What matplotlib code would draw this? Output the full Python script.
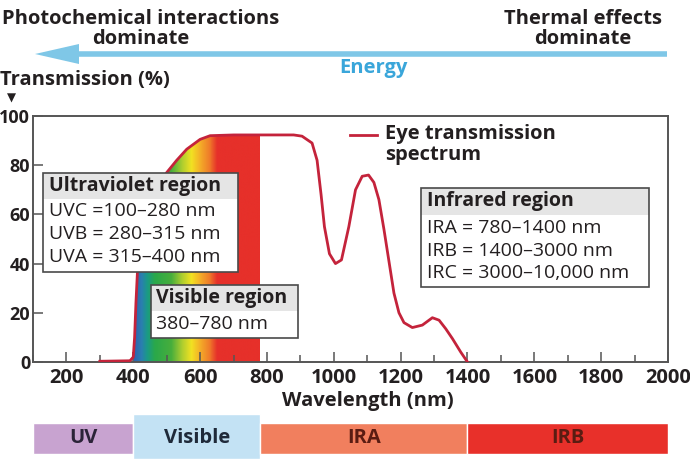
import numpy as np
import matplotlib
matplotlib.use("Agg")
import matplotlib.pyplot as plt
from matplotlib.patches import Rectangle, Polygon
from matplotlib.colors import LinearSegmentedColormap, Normalize

# ---------------- data ----------------
wavelength = [300, 390, 400, 404, 408, 413, 420, 430, 445, 460, 480, 500, 530, 560, 600, 630,
              700, 780, 880, 905, 935, 950, 962, 972, 987, 1005, 1023, 1045, 1065, 1085,
              1104, 1120, 1135, 1150, 1165, 1180, 1195, 1210, 1235, 1265, 1295, 1315,
              1335, 1355, 1380, 1400]
transmission = [0.3, 0.5, 2, 10, 24, 38, 50, 58, 65, 69, 73, 77, 82, 86.5, 90.5, 92,
                92.3, 92.3, 92.3, 91.8, 89, 82, 68, 55, 44, 40, 41.5, 55, 70, 75.5,
                76, 73, 66, 54, 41, 28, 20, 16, 14, 15, 18, 17,
                13.5, 9.5, 4, 0]

x_ticks = [200, 400, 600, 800, 1000, 1200, 1400, 1600, 1800, 2000]
y_ticks = [0, 20, 40, 60, 80, 100]

visible_start, visible_end = 400, 780
spectrum_nm = [400, 425, 442, 465, 515, 545, 575, 600, 630, 652, 780]
spectrum_colors = ['#2f5fae', '#2a7fb0', '#1a9a86', '#2aa84a', '#48ae3c', '#a8cc30',
                   '#f2e222', '#f4b028', '#ef7a2a', '#e6302a', '#e6302a']

band_names = ['UV', 'Visible', 'IRA', 'IRB']
band_start = [100, 400, 780, 1400]
band_end = [400, 780, 1400, 2000]
band_colors = ['#c8a3d0', '#c3e2f4', '#f17f5e', '#e8302a']
band_text_colors = ['#2b2338', '#1f2a3a', '#5a1c12', '#5a1c12']

uv_box = ['Ultraviolet region', 'UVC =100\u2013280 nm', 'UVB = 280\u2013315 nm', 'UVA = 315\u2013400 nm']
vis_box = ['Visible region', '380\u2013780 nm']
ir_box = ['Infrared region', 'IRA = 780\u20131400 nm', 'IRB = 1400\u20133000 nm', 'IRC = 3000\u201310,000 nm']

# ---------------- style ----------------
W, H = 690, 463
FONT = 'Open Sans'
TXT = '#231f20'
CURVE = '#c4233b'
BOLD = 14.5
plt.rcParams['font.family'] = [FONT, 'DejaVu Sans']

fig = plt.figure(figsize=(W / 100, H / 100), dpi=100)
fig.patch.set_facecolor('white')

def rect_frac(x0, y0, x1, y1):
    return [x0 / W, 1 - y1 / H, (x1 - x0) / W, (y1 - y0) / H]

# main axes
ax = fig.add_axes(rect_frac(33, 116, 668, 362))
ax.set_xlim(100, 2000)
ax.set_ylim(0, 100)
for s in ax.spines.values():
    s.set_color('#555555')
    s.set_linewidth(1.4)
ax.set_xticks(x_ticks)
ax.set_xticklabels([str(v) for v in x_ticks], fontsize=BOLD, fontweight='bold', color=TXT)
ax.set_xticks(np.arange(100, 2001, 100), minor=True)
ax.set_yticks(y_ticks)
ax.set_yticklabels([str(v) for v in y_ticks], fontsize=13, fontweight='bold', color=TXT)
ax.tick_params(axis='x', which='major', direction='in', length=7, width=1.1, color='#555555', pad=4)
ax.tick_params(axis='x', which='minor', direction='in', length=5, width=1.1, color='#555555')
ax.tick_params(axis='y', which='major', direction='in', length=7, width=1.1, color='#555555', pad=2)

# gradient fill under curve in visible range
wl = np.array(wavelength, dtype=float)
tr = np.array(transmission, dtype=float)
mask = (wl >= visible_start) & (wl <= visible_end)
poly_pts = [(visible_start, 0)] + list(zip(wl[mask], tr[mask])) + [(visible_end, 0)]
clip = Polygon(poly_pts, closed=True, facecolor='none', edgecolor='none', transform=ax.transData)
ax.add_patch(clip)
pos = [(v - visible_start) / (visible_end - visible_start) for v in spectrum_nm]
cmap = LinearSegmentedColormap.from_list('spec', list(zip(pos, spectrum_colors)))
grad = np.linspace(visible_start, visible_end, 500)[None, :]
im = ax.imshow(grad, extent=[visible_start, visible_end, 0, 100], origin='lower',
               aspect='auto', cmap=cmap, norm=Normalize(visible_start, visible_end), zorder=1)
im.set_clip_path(clip)

ax.plot(wl, tr, color=CURVE, lw=2.0, zorder=3, solid_joinstyle='round')

# bottom band bar
ax2 = fig.add_axes(rect_frac(33, 414, 668, 459))
ax2.set_xlim(100, 2000)
ax2.set_ylim(0, 1)
ax2.axis('off')
for i, name in enumerate(band_names):
    if name == 'Visible':
        b, h = 0.0, 1.0
    else:
        b, h = 0.11, 0.69
    ax2.bar(band_start[i], h, width=band_end[i] - band_start[i], bottom=b, align='edge',
            color=band_colors[i], edgecolor='white', linewidth=1.0)
    ax2.text((band_start[i] + band_end[i]) / 2, 0.46, name, ha='center', va='center',
             fontsize=BOLD, fontweight='bold', color=band_text_colors[i])

# overlay in pixel coordinates
ov = fig.add_axes([0, 0, 1, 1], zorder=5)
ov.set_xlim(0, W)
ov.set_ylim(H, 0)
ov.axis('off')

# top texts
ov.text(141, 19, 'Photochemical interactions', ha='center', va='center',
        fontsize=BOLD, fontweight='bold', color=TXT)
ov.text(141, 39, 'dominate', ha='center', va='center',
        fontsize=BOLD, fontweight='bold', color=TXT)
ov.text(583, 19, 'Thermal effects', ha='center', va='center',
        fontsize=BOLD, fontweight='bold', color=TXT)
ov.text(583, 39, 'dominate', ha='center', va='center',
        fontsize=BOLD, fontweight='bold', color=TXT)
# energy arrow
ov.plot([70, 667], [54, 54], color='#7fc7e7', lw=4.0, solid_capstyle='butt')
ov.add_patch(Polygon([(35, 54), (79, 44), (79, 64)], closed=True, facecolor='#7fc7e7', edgecolor='none'))
ov.text(373, 68, 'Energy', ha='center', va='center', fontsize=BOLD, fontweight='bold', color='#3aa6da')

ov.text(0, 80, 'Transmission (%)', ha='left', va='center', fontsize=BOLD, fontweight='bold', color=TXT)
ov.text(11, 98, '\u25BC', ha='center', va='center', fontsize=8.5, color=TXT, family='DejaVu Sans')

ov.text(368, 401, 'Wavelength (nm)', ha='center', va='center', fontsize=BOLD, fontweight='bold', color=TXT)

# legend
ov.plot([350, 377], [135, 135], color=CURVE, lw=2.0)
ov.text(385, 134, 'Eye transmission', ha='left', va='center', fontsize=BOLD,
        fontweight='bold', color=TXT)
ov.text(385, 155, 'spectrum', ha='left', va='center', fontsize=BOLD,
        fontweight='bold', color=TXT)

def info_box(x0, y0, x1, y1, header_bottom, tx, lines, ys):
    ov.add_patch(Rectangle((x0, y0), x1 - x0, y1 - y0, facecolor='white', edgecolor='none'))
    ov.add_patch(Rectangle((x0, y0), x1 - x0, header_bottom - y0, facecolor='#e5e5e5', edgecolor='none'))
    ov.add_patch(Rectangle((x0, y0), x1 - x0, y1 - y0, facecolor='none', edgecolor='#4a4a4a', lw=1.2))
    for i, (t, yy) in enumerate(zip(lines, ys)):
        ov.text(tx, yy, t, ha='left', va='center', fontsize=14,
                fontweight='bold' if i == 0 else 'normal', color=TXT)

info_box(43, 173, 238, 272, 199, 49, uv_box, [186, 211, 234, 257])
info_box(151, 285, 298, 338, 311, 156, vis_box, [298, 324])
info_box(421, 188, 649, 287, 215, 427, ir_box, [201, 228, 251, 273])

fig.savefig('out.png', dpi=100)
